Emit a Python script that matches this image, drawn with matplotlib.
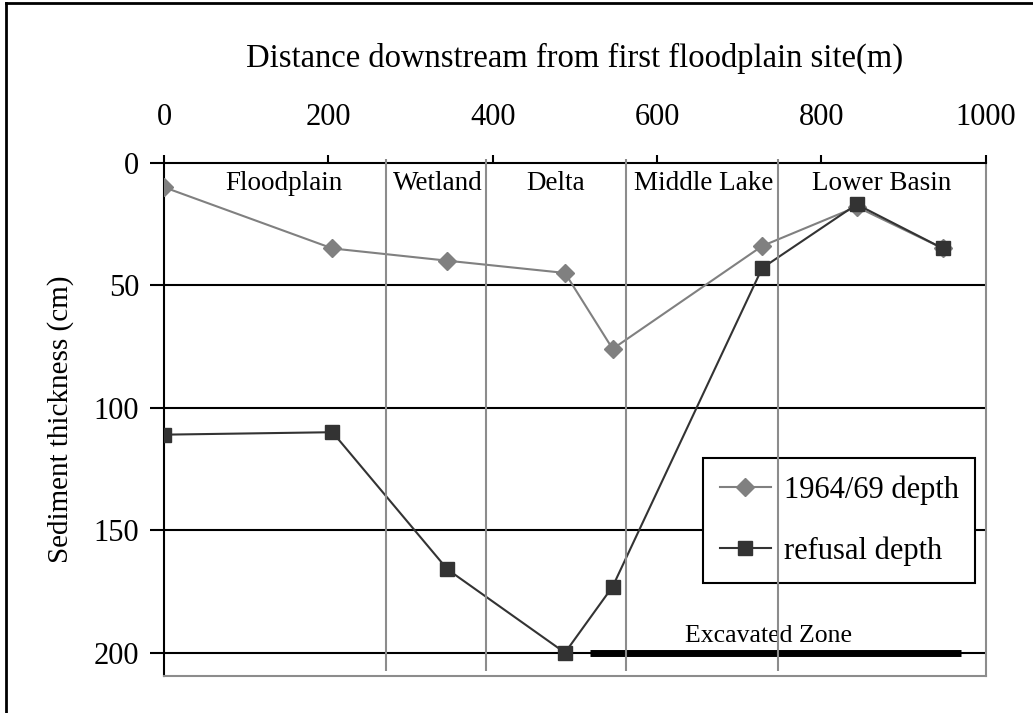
import numpy as np
import matplotlib.pyplot as plt
from matplotlib.lines import Line2D

# site distances (m) and depths (cm)
distance = [0, 205, 345, 488, 546, 728, 843, 948]
depth_1964 = [10, 35, 40, 45, 76, 34, 18, 35]
depth_refusal = [111, 110, 166, 200, 173, 43, 17, 35]

# zone boundaries and labels
boundaries = [270, 392, 562, 747]
zone_names = ["Floodplain", "Wetland", "Delta", "Middle Lake", "Lower Basin"]
zone_centres = [146, 333, 476, 657, 873]
excavated = [518, 970]

plt.rcParams['font.family'] = ['Liberation Serif', 'DejaVu Serif']
plt.rcParams['font.size'] = 22

fig = plt.figure(figsize=(10.33, 7.13), dpi=100)
ax = fig.add_axes([164 / 1033, 1 - 676 / 713, (985.7 - 164) / 1033, (676 - 162.7) / 713])

ax.set_xlim(0, 1000)
ax.set_ylim(209.5, 0)

# horizontal grid
for yv in [50, 100, 150, 200]:
    ax.axhline(yv, color='black', lw=1.5, zorder=1)

ax.plot(distance, depth_1964, color='#808080', lw=1.5, marker='D', ms=9,
        label='1964/69 depth', zorder=3)
ax.plot(distance, depth_refusal, color='#333333', lw=1.5, marker='s', ms=10,
        label='refusal depth', zorder=4)

for name, xc in zip(zone_names, zone_centres):
    ax.text(xc, 8.5, name, ha='center', va='center', fontsize=19.5)

ax.plot(excavated, [200, 200], color='black', lw=5, solid_capstyle='butt', zorder=2)
ax.text(736, 193, "Excavated Zone", ha='center', va='center', fontsize=18.5)

ax.xaxis.tick_top()
ax.xaxis.set_label_position('top')
ax.set_xticks([0, 200, 400, 600, 800, 1000])
ax.set_yticks([0, 50, 100, 150, 200])
ax.tick_params(axis='x', direction='out', length=6, width=1.5, pad=16)
ax.tick_params(axis='y', direction='out', length=10, width=1.5, pad=8)
ax.set_xlabel("Distance downstream from first floodplain site(m)", fontsize=23.5, labelpad=26)
ax.set_ylabel("Sediment thickness (cm)", fontsize=21, labelpad=14)

ax.spines['left'].set_color('black')
ax.spines['top'].set_color('black')
ax.spines['left'].set_linewidth(1.5)
ax.spines['top'].set_linewidth(1.5)
ax.spines['right'].set_color('#8c8c8c')
ax.spines['bottom'].set_color('#8c8c8c')
ax.spines['right'].set_linewidth(1.5)
ax.spines['bottom'].set_linewidth(1.5)

leg = ax.legend(loc='upper left', bbox_to_anchor=(702.7 / 1033, 1 - 458.3 / 713),
                bbox_transform=fig.transFigure, borderaxespad=0, fancybox=False,
                framealpha=1, edgecolor='black', handlelength=1.7, labelspacing=1.05,
                handletextpad=0.4, borderpad=0.55, fontsize=22)
leg.get_frame().set_linewidth(1.5)
leg.set_zorder(5)

# zone boundaries drawn above the legend box
ax.vlines(boundaries, -1.5, 207.5, color='#8c8c8c', lw=1.5, zorder=7, clip_on=False)

# outer frame (left and top edges)
fig.add_artist(Line2D([6 / 1033, 6 / 1033], [0, 1 - 3 / 713], color='black', lw=2))
fig.add_artist(Line2D([6 / 1033, 1], [1 - 3 / 713, 1 - 3 / 713], color='black', lw=2))

fig.savefig('out.png', dpi=100)
